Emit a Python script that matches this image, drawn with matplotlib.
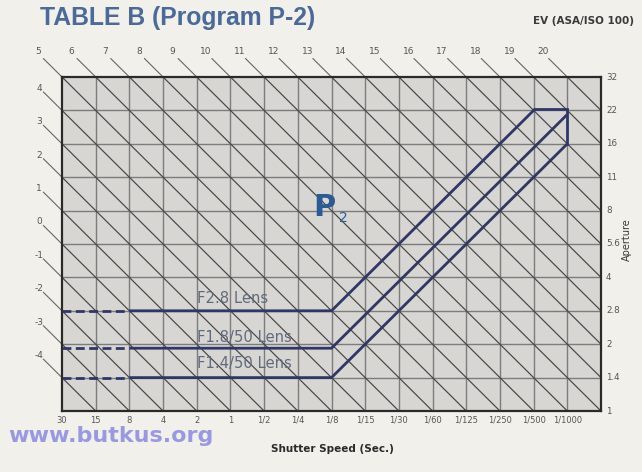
import matplotlib
matplotlib.use("Agg")
import matplotlib.pyplot as plt
import numpy as np

# ---- data ----
shutter_labels = ['30', '15', '8', '4', '2', '1', '1/2', '1/4', '1/8', '1/15',
                  '1/30', '1/60', '1/125', '1/250', '1/500', '1/1000']
aperture_labels = ['1', '1.4', '2', '2.8', '4', '5.6', '8', '11', '16', '22', '32']
ev_top = list(range(5, 21))      # labels above the grid
ev_left = list(range(-4, 5))     # labels left of the grid
ev_all = list(range(-4, 21))     # diagonal EV lines

lens_names = ['F2.8 Lens', 'F1.8/50 Lens', 'F1.4/50 Lens']
lens_av = [3.0, 1.88, 1.0]        # wide-open aperture (Av steps)
dash_end_tv = 2                   # dashed part ends at 4 s column
knee_tv = 8                       # program starts at 1/8 s column
lens_end = [(14.05, 9.05), (15.0, 8.88), (15.0, 8.0)]
cap_x = [14.05, 15.0, 15.0]       # upper limit box
cap_y = [9.05, 9.05, 8.0]

W, H = 642, 472
fig = plt.figure(figsize=(W / 100, H / 100), dpi=100)
fig.patch.set_facecolor('#f2f0eb')

L, R, T, B = 62, 601, 77, 411
ax = fig.add_axes([L / W, 1 - B / H, (R - L) / W, (B - T) / H])
nx, ny = len(shutter_labels), len(aperture_labels) - 1
ax.set_xlim(0, nx)
ax.set_ylim(0, ny)
ax.set_facecolor('#d8d6d2')
ax.set_xticks([])
ax.set_yticks([])
for s in ax.spines.values():
    s.set_color('#2a2a2a')
    s.set_linewidth(1.6)

# grid
for i in range(1, nx):
    ax.plot([i, i], [0, ny], color='#7c7c7c', lw=1.0, zorder=1)
for j in range(1, ny):
    ax.plot([0, nx], [j, j], color='#7c7c7c', lw=1.0, zorder=1)

# diagonal EV lines: j = ev + 5 - i
ext = 0.55
for ev in ev_all:
    c = ev + 5
    if c >= ny:
        x0, y0 = c - ny, ny
    else:
        x0, y0 = 0, c
    if c <= nx:
        x1, y1 = c, 0
    else:
        x1, y1 = nx, c - nx
    ax.plot([x0, x1], [y0, y1], color='#454545', lw=0.85, zorder=2)
    if ev in ev_top or ev in ev_left:
        ax.plot([x0 - ext, x0], [y0 + ext, y0], color='#666666', lw=0.8,
                zorder=2, clip_on=False)

for ev in ev_top:
    x0 = ev + 5 - ny
    ax.text(x0 - 0.72, ny + 0.76, str(ev), ha='center', va='center',
            fontsize=6.5, color='#555555', clip_on=False)
for ev in ev_left:
    y0 = ev + 5
    ax.text(-0.68, y0 + 0.66, str(ev), ha='center', va='center',
            fontsize=6.5, color='#555555', clip_on=False)

# tick labels
for i, lab in enumerate(shutter_labels):
    ax.text(i, -0.27, lab, ha='center', va='center', fontsize=6,
            color='#555555', clip_on=False)
for j, lab in enumerate(aperture_labels):
    ax.text(nx + 0.15, j, lab, ha='left', va='center', fontsize=6.3,
            color='#555555', clip_on=False)

# program lines
pc = '#2d3868'
for name, av, (ex, ey) in zip(lens_names, lens_av, lens_end):
    ax.plot([0, dash_end_tv], [av, av], color=pc, lw=2, ls=(0, (3.2, 1.6)),
            zorder=4)
    ax.plot([dash_end_tv, knee_tv, ex], [av, av, ey], color=pc, lw=2,
            zorder=4, solid_capstyle='butt', solid_joinstyle='miter')
ax.plot(cap_x, cap_y, color=pc, lw=2, zorder=4, solid_joinstyle='miter')

label_y_off = [0.36, 0.33, 0.42]
for name, av, dy in zip(lens_names, lens_av, label_y_off):
    ax.text(4.0, av + dy, name, ha='left', va='center', fontsize=10.6,
            color='#5f6a80', zorder=5)

# P2 mark
ax.text(7.45, 6.1, 'P', ha='left', va='center', fontsize=22,
        fontweight='bold', color='#2b5b94', zorder=5)
ax.text(8.22, 5.78, '2', ha='left', va='center', fontsize=10,
        color='#2b5b94', zorder=5)

# titles
fig.text(40 / W, 1 - 18 / H, 'TABLE B (Program P-2)', ha='left',
         va='center', fontsize=17.8, fontweight='bold', color='#4a6a9a',
         family='Liberation Sans')
fig.text(634 / W, 1 - 21 / H, 'EV (ASA/ISO 100)', ha='right', va='center',
         fontsize=7.5, fontweight='bold', color='#3a3a3a')
fig.text(627 / W, 1 - 240 / H, 'Aperture', rotation=90, ha='center',
         va='center', fontsize=7, color='#3a3a3a')
fig.text(332 / W, 1 - 449 / H, 'Shutter Speed (Sec.)', ha='center',
         va='center', fontsize=7.5, fontweight='bold', color='#2a2a2a')
fig.text(8 / W, 1 - 436 / H, 'www.butkus.org', ha='left', va='center',
         fontsize=16, fontweight='bold', color='#7c7ce0', alpha=0.75)

fig.savefig('out.png', dpi=100, facecolor=fig.get_facecolor())
